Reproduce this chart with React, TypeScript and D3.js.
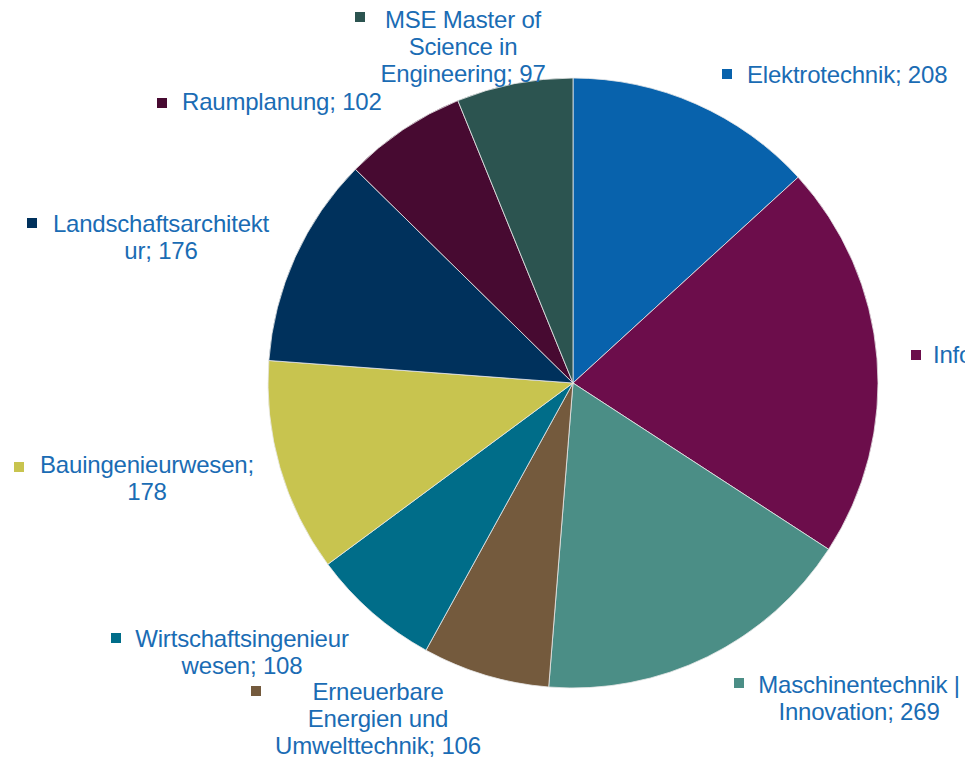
import React from "react";
import * as d3 from "d3";

const categories = [
  "Elektrotechnik",
  "Informatik",
  "Maschinentechnik | Innovation",
  "Erneuerbare Energien und Umwelttechnik",
  "Wirtschaftsingenieurwesen",
  "Bauingenieurwesen",
  "Landschaftsarchitektur",
  "Raumplanung",
  "MSE Master of Science in Engineering",
];
const values = [208, 330, 269, 106, 108, 178, 176, 102, 97];
const colors = [
  "#0862AC",
  "#6C0D4B",
  "#4B8E86",
  "#745A3D",
  "#006D89",
  "#C8C44F",
  "#00315C",
  "#470A31",
  "#2C5450",
];
// label line breaks; {v} is replaced with the value
const labelLines = [
  ["Elektrotechnik; {v}"],
  ["Informatik; {v}"],
  ["Maschinentechnik |", "Innovation; {v}"],
  ["Erneuerbare", "Energien und", "Umwelttechnik; {v}"],
  ["Wirtschaftsingenieur", "wesen; {v}"],
  ["Bauingenieurwesen;", "{v}"],
  ["Landschaftsarchitekt", "ur; {v}"],
  ["Raumplanung; {v}"],
  ["MSE Master of", "Science in", "Engineering; {v}"],
];

// layout of the data labels (anchor x, first baseline y, marker x/y)
const labelLayout = [
  { anchor: "start", x: 747, y: 83, mx: 722, my: 69 },
  { anchor: "start", x: 933, y: 363, mx: 911, my: 350 },
  { anchor: "middle", x: 859, y: 693, mx: 734, my: 678 },
  { anchor: "middle", x: 378, y: 700, mx: 251, my: 686 },
  { anchor: "middle", x: 242, y: 647, mx: 111, my: 633 },
  { anchor: "middle", x: 147, y: 473, mx: 14, my: 462 },
  { anchor: "middle", x: 161, y: 232, mx: 27, my: 218 },
  { anchor: "start", x: 182, y: 110, mx: 157, my: 98 },
  { anchor: "middle", x: 463, y: 28, mx: 355, my: 12 },
];

const W = 965;
const H = 762;
const CX = 573;
const CY = 383;
const R = 305;
const LINE_H = 27;
const TEXT_COLOR = "#1A6CB4";

export default function App() {
  const data = categories.map((c, i) => ({ name: c, value: values[i], i }));
  const pie = d3
    .pie<{ name: string; value: number; i: number }>()
    .sort(null)
    .value((d) => d.value)
    .startAngle(0)
    .endAngle(2 * Math.PI);
  const arcs = pie(data);
  const arcGen = d3
    .arc<d3.PieArcDatum<{ name: string; value: number; i: number }>>()
    .innerRadius(0)
    .outerRadius(R);

  return (
    <svg
      width={W}
      height={H}
      style={{ position: "absolute", left: 0, top: 0, background: "#fff" }}
    >
      <rect x={0} y={0} width={W} height={H} fill="#fff" />
      <g transform={`translate(${CX},${CY})`}>
        {arcs.map((a) => (
          <path
            key={a.data.name}
            d={arcGen(a) || ""}
            fill={colors[a.data.i]}
            stroke="#e8e8e8"
            strokeWidth={0.8}
          />
        ))}
      </g>
      <g
        fontFamily="'Liberation Sans', Arial, sans-serif"
        fontSize={24}
        fill={TEXT_COLOR}
        letterSpacing={-0.2}
      >
        {labelLines.map((lines, i) => {
          const L = labelLayout[i];
          return (
            <g key={categories[i]}>
              <rect x={L.mx} y={L.my} width={10} height={10} fill={colors[i]} />
              <text textAnchor={L.anchor} x={L.x} y={L.y}>
                {lines.map((ln, k) => (
                  <tspan key={k} x={L.x} y={L.y + k * LINE_H}>
                    {ln.replace("{v}", String(values[i]))}
                  </tspan>
                ))}
              </text>
            </g>
          );
        })}
      </g>
    </svg>
  );
}
